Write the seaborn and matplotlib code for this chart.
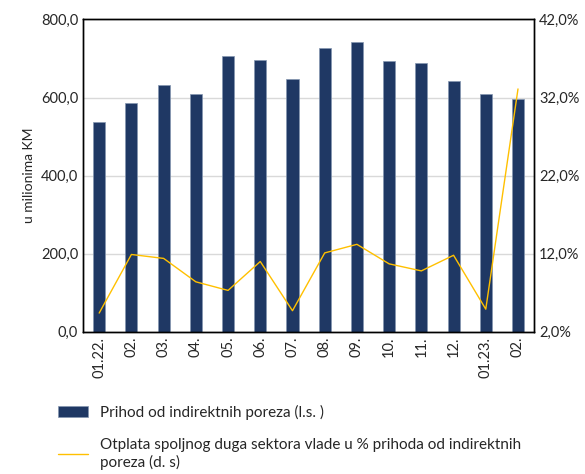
import numpy as np
import pandas as pd
import matplotlib
matplotlib.use("Agg")
import matplotlib.pyplot as plt
import seaborn as sns
from matplotlib.ticker import FuncFormatter
from matplotlib.patches import Patch
from matplotlib.lines import Line2D

# podaci očitani sa grafika
months = ["01.22.", "02.", "03.", "04.", "05.", "06.", "07.",
          "08.", "09.", "10.", "11.", "12.", "01.23.", "02."]
prihod = [537, 586, 631, 608, 706, 695, 648, 727, 742, 693, 689, 643, 608, 596]
otplata = [4.4, 11.9, 11.4, 8.4, 7.3, 11.0, 4.7, 12.1, 13.2, 10.7, 9.8, 11.8, 4.9, 33.1]

bar_label = "Prihod od indirektnih poreza (l.s. )"
line_label = "Otplata spoljnog duga sektora vlade u % prihoda od indirektnih\nporeza (d. s)"

sns.set_style("white")
plt.rcParams['font.family'] = ['Lato', 'DejaVu Sans']
plt.rcParams['font.size'] = 10

df = pd.DataFrame({"pos": np.arange(len(months)), "prihod": prihod, "otplata": otplata})

fig = plt.figure(figsize=(5.85, 4.74), dpi=100)
ax = fig.add_axes([0.142, 0.300, 0.771, 0.659])

sns.barplot(data=df, x="pos", y="prihod", color="#1f3864", width=0.375,
            edgecolor="#8496b0", linewidth=0.5, saturation=1, ax=ax)
ax.set_ylim(0, 800)
ax.set_yticks([0, 200, 400, 600, 800])
ax.yaxis.set_major_formatter(FuncFormatter(lambda v, p: f"{v:.1f}".replace(".", ",")))
ax.grid(axis="y", color="#d9d9d9", linewidth=1)
ax.set_axisbelow(True)
ax.set_xlim(-0.5, len(months) - 0.5)
ax.set_xticks(np.arange(len(months)))
ax.set_xticklabels(months, rotation=90, fontsize=10.5)
ax.set_xlabel("")
ax.set_ylabel("u milionima KM", fontsize=10)
ax.tick_params(length=0, labelsize=10.5)

ax2 = ax.twinx()
sns.lineplot(data=df, x="pos", y="otplata", color="#ffc000", linewidth=1, ax=ax2)
ax2.set_ylim(2, 42)
ax2.set_yticks([2, 12, 22, 32, 42])
ax2.yaxis.set_major_formatter(FuncFormatter(lambda v, p: f"{v:.1f}%".replace(".", ",")))
ax2.set_ylabel("")
ax2.tick_params(length=0, labelsize=10.5)

for a in (ax, ax2):
    for s in a.spines.values():
        s.set_color("black")
        s.set_linewidth(1)

handles = [Patch(facecolor="#1f3864", edgecolor="#8496b0", linewidth=0.5),
           Line2D([0], [0], color="#ffc000", linewidth=1)]
fig.legend(handles, [bar_label, line_label], loc="upper left",
           bbox_to_anchor=(0.075, 0.175), frameon=False, fontsize=11,
           handlelength=2.0, handleheight=0.8, labelspacing=1.2, handletextpad=0.8)

fig.savefig("out.png", dpi=100)
